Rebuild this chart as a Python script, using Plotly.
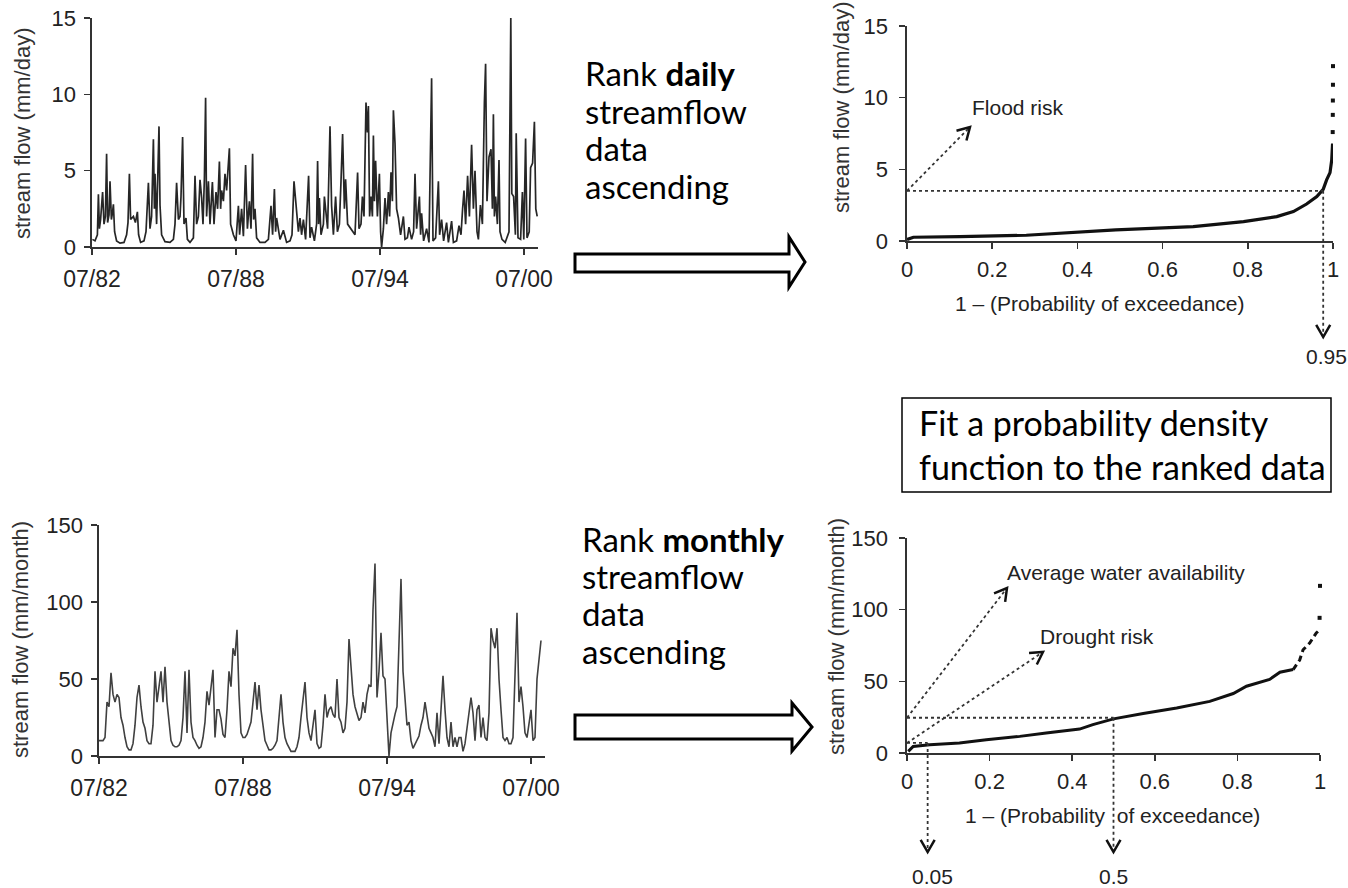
import math
import plotly.graph_objects as go

W, H = 1348, 888

# ------------------------------------------------------------------ data
time_tick_vals = [1982.5, 1988.5, 1994.5, 2000.5]
time_tick_text = ["07/82", "07/88", "07/94", "07/00"]

# daily stream flow (mm/day): months since July 1982 and flow
daily_month_offset = [
    0.2, 1.5, 2.7, 3.2, 3.7, 4.3, 5.3, 6.0, 6.7, 7.3,
    7.8, 8.5, 9.0, 9.7, 10.2, 10.7, 11.3, 12.3, 14, 16,
    17.3, 18, 18.7, 19.3, 20.7, 21.7, 22.7, 23.3, 24.3, 26,
    27, 28.2, 29, 29.8, 30.7, 31.2, 31.5, 32.3, 33.5, 34,
    34.8, 36.5, 39, 40.7, 41.5, 42.3, 43.2, 44, 44.5, 45.3,
    46, 47, 47.7, 49, 50.7, 51.5, 52.3, 53.2, 54, 54.8,
    55.5, 56.2, 56.8, 57.3, 58.2, 59, 60.2, 61, 62, 62.8,
    63.7, 64.3, 64.8, 65.7, 66.5, 67.3, 68.7, 69.3, 70.7, 72,
    73.2, 73.8, 74.8, 75.7, 76.8, 77.7, 78.7, 79.5, 80.3, 80.8,
    81.5, 82.3, 84, 86.5, 88.2, 89.5, 90.3, 91.2, 91.8, 92.3,
    94, 95.7, 97.3, 99, 100, 101,
    103.2, 104, 104.8, 105.7, 106.8, 108.3, 109, 109.8, 111.2, 112.3,
    112.8, 113.3, 113.7, 114.5, 115.7, 116.2, 116.8, 117.8, 119, 119.8,
    120.7, 121.8, 122.7, 123.7, 124.5, 125.3, 126.2, 126.8, 127.8, 129.8,
    131.5, 132.8, 133.5, 134.5, 135.2, 136, 137, 137.7, 138.2, 138.8,
    139.5, 140.2, 140.7, 141.2, 141.8, 142.7, 143.7, 144.3, 144.8, 145.7,
    146.5, 147.3, 148.2, 148.8, 149.5, 150.2, 150.7, 151.5, 152.3, 153.2,
    154.3, 155.7, 156.5, 157.7, 158.5, 159.8, 160.8, 161.5, 162.3, 163.7,
    164.3, 164.8, 165.8, 167.3, 168.5, 169.8, 170.5, 171.8, 173.2, 173.8,
    174.8, 175.8, 177.3, 178.2, 179.8, 180.7, 182.3, 183.5, 184.5, 185.3,
    186, 186.8, 187.8, 188.7, 189.8, 190.7, 191.5, 192.5, 193.2, 194.2,
    195.2, 196.2, 196.8, 197.5, 198.5, 199.5, 200.2, 200.7, 201.2, 201.8,
    202.7, 203.5, 204,
    205, 206.6, 208.5, 209.4, 209.9, 210.8, 211.7, 212.1, 213, 214.3,
    215.2, 215.9, 216.8, 217.5, 218.6, 219.3, 220.3, 221.2, 221.9, 222.6,
]
daily_flow = [
    0.5, 0.4, 0.8, 3.45, 1.2, 1.8, 3.6, 1.5, 2.0, 6.1,
    1.6, 2.1, 4.3, 1.8, 2.2, 2.8, 1.0, 0.4, 0.25, 0.3,
    0.8, 1.6, 4.8, 1.8, 2.0, 1.6, 2.3, 0.8, 0.3, 0.4,
    1.0, 4.2, 1.2, 2.0, 7.05, 2.5, 4.8, 1.5, 7.9, 2.75,
    0.8, 0.35, 0.3, 0.5, 1.5, 4.2, 1.8, 2.0, 3.3, 7.2,
    1.5, 1.9, 0.5, 0.3, 0.6, 4.67, 1.5, 2.0, 4.4, 3.25,
    1.5, 4.5, 9.78, 2.0, 4.3, 1.5, 4.25, 1.5, 3.6, 2.5,
    5.6, 2.5, 3.7, 3.0, 4.8, 3.7, 6.46, 1.5, 0.8, 0.4,
    2.7, 0.8, 2.5, 0.7, 5.37, 1.2, 3.0, 1.2, 6.1, 1.8,
    2.5, 0.6, 0.3, 0.3, 0.5, 2.7, 0.8, 3.8, 1.0, 1.9,
    0.5, 1.1, 0.3, 0.4, 0.8, 4.3,
    1.0, 1.9, 0.8, 1.8, 0.5, 4.67, 0.6, 1.3, 0.4, 1.5,
    5.63, 1.5, 3.2, 0.8, 1.5, 3.3, 2.5, 1.2, 7.9, 2.7,
    0.8, 3.3, 1.0, 1.5, 4.3, 7.4, 2.5, 4.44, 1.5, 1.1,
    0.8, 4.88, 1.2, 1.5, 3.3, 2.0, 9.47, 7.5, 9.24, 2.0,
    3.3, 2.0, 7.3, 3.0, 5.65, 2.0, 4.8, 1.0, 0.0, 1.2,
    3.2, 1.5, 3.6, 2.0, 4.9, 3.0, 8.96, 6.8, 2.5, 1.9,
    0.8, 2.0, 0.5, 0.6, 1.3, 0.5, 1.0, 4.8, 1.2, 3.3,
    0.8, 2.2, 0.4, 1.2, 0.3, 11.05, 0.4, 0.6, 4.3, 0.8,
    1.8, 0.4, 1.6, 0.3, 1.7, 0.3, 0.4, 1.4, 0.8, 2.5,
    3.7, 1.5, 4.67, 2.0, 6.7, 2.5, 5.0, 1.0, 0.5, 2.75,
    1.5, 9.5, 12.0, 3.0, 5.9, 6.4, 2.5, 8.7, 2.0, 3.3,
    1.5, 5.7, 1.0,
    0.5, 0.3, 1.0, 15.0, 3.5, 3.3, 0.8, 7.45, 0.6, 0.5,
    3.6, 0.5, 7.1, 0.6, 1.0, 5.2, 5.5, 8.2, 2.5, 2.0,
]

# monthly stream flow (mm/month), one value per month starting July 1982
monthly_flow = [
    10, 10, 10, 12, 35, 32, 54, 40, 35, 40,
    38, 25, 20, 12, 6, 4, 4, 8, 20, 38,
    46, 32, 22, 18, 10, 8, 8, 20, 55, 35,
    45, 55, 35, 58, 35, 20, 10, 7, 6, 6,
    7, 10, 25, 55, 15, 56, 22, 12, 10, 7,
    5, 6, 12, 22, 42, 33, 45, 56, 12, 30,
    30, 24, 14, 12, 30, 55, 45, 70, 65, 82,
    40, 15, 12, 12, 14, 18, 22, 35, 48, 30,
    46, 30, 18, 10, 7, 4, 4, 5, 7, 10,
    25, 40, 22, 12, 8, 5, 3, 3, 3, 6,
    12, 25, 35, 48, 25, 15, 10, 20, 30, 8,
    5, 6, 20, 40, 25, 30, 32, 27, 25, 50,
    25, 22, 15, 18, 35, 76, 60, 40, 32, 28,
    23, 25, 35, 28, 40, 46, 45, 95, 125, 38,
    55, 80, 52, 50, 20, 0, 15, 22, 27, 32,
    70, 115, 55, 35, 20, 22, 10, 5, 8, 10,
    13, 20, 25, 35, 25, 18, 15, 12, 6, 28,
    8, 35, 52, 30, 12, 6, 22, 6, 12, 6,
    12, 12, 3, 8, 18, 30, 38, 28, 10, 30,
    33, 12, 25, 12, 10, 28, 83, 75, 70, 83,
    50, 30, 12, 10, 12, 8, 8, 12, 50, 93,
    35, 45, 32, 15, 12, 20, 30, 10, 12, 50,
    65, 75,
]

# ranked daily flow: 1 - probability of exceedance vs flow (mm/day)
daily_rank_p = [0.0, 0.015, 0.124, 0.28, 0.49, 0.6, 0.672, 0.79, 0.868, 0.907,
                0.938, 0.962, 0.977, 0.985, 0.993, 0.997, 0.999]
daily_rank_q = [0.1, 0.26, 0.3, 0.4, 0.77, 0.93, 1.0, 1.35, 1.7, 2.05,
                2.58, 3.1, 3.6, 4.26, 4.77, 5.65, 6.8]
daily_tail_p = [0.9993, 0.9995, 0.9997, 0.9999, 1.0]
daily_tail_q = [7.6, 8.8, 9.8, 10.9, 12.2]

# ranked monthly flow (mm/month)
monthly_rank_p = [0.003, 0.015, 0.055, 0.127, 0.192, 0.273, 0.337, 0.418, 0.45, 0.5,
                  0.572, 0.653, 0.733, 0.79, 0.822, 0.878, 0.903, 0.935]
monthly_rank_q = [1.1, 4.6, 5.8, 7.0, 9.3, 11.6, 14.0, 16.7, 19.8, 23.8,
                  27.5, 31.4, 36.0, 41.5, 46.6, 51.3, 56.4, 58.2]
monthly_upper_p = [0.935, 0.951, 0.959, 0.975, 0.991, 0.998]
monthly_upper_q = [58.2, 65.0, 72.0, 76.7, 83.7, 85.6]
monthly_tail_p = [0.999, 1.0]
monthly_tail_q = [94.3, 116.6]

# risk levels marked on the ranked curves
flood_p, flood_q = 0.977, 3.5
drought_p, drought_q = 0.05, 7.0
average_p, average_q = 0.5, 24.6

# ------------------------------------------------------------------ layout geometry (pixels)
panels = {
    "TL": dict(x0=92, x1=538, yt=18, yb=247, xr=(1982.5, 1982.5 + 446 / 24), yr=(0, 15)),
    "TR": dict(x0=907, x1=1333, yt=26, yb=241, xr=(0, 1), yr=(0, 15)),
    "BL": dict(x0=99, x1=545, yt=525, yb=756, xr=(1982.5, 1982.5 + 446 / 24), yr=(0, 150)),
    "BR": dict(x0=907, x1=1320, yt=538, yb=753, xr=(0, 1), yr=(0, 150)),
}


def PX(x):
    return x / W


def PY(y):
    return 1 - y / H


def data_px(panel, xv, yv):
    p = panels[panel]
    fx = (xv - p["xr"][0]) / (p["xr"][1] - p["xr"][0])
    fy = (yv - p["yr"][0]) / (p["yr"][1] - p["yr"][0])
    return p["x0"] + fx * (p["x1"] - p["x0"]), p["yb"] - fy * (p["yb"] - p["yt"])


FONT = "Liberation Sans, Arial, sans-serif"
TXT = "#222222"
AX = "#333333"


def axis(panel, which, size=21, **kw):
    p = panels[panel]
    if which == "x":
        dom = [PX(p["x0"]), PX(p["x1"])]
        rng = list(p["xr"])
    else:
        dom = [PY(p["yb"]), PY(p["yt"])]
        rng = list(p["yr"])
    d = dict(domain=dom, range=rng, showline=True, linecolor=AX, linewidth=1.6,
             ticks="outside", ticklen=6, tickwidth=1.5, tickcolor=AX,
             showgrid=False, zeroline=False, fixedrange=True, automargin=False,
             tickfont=dict(family=FONT, size=size, color=TXT))
    d.update(kw)
    return d


fig = go.Figure()

# daily series
fig.add_trace(go.Scatter(
    x=[time_tick_vals[0] + m / 12 for m in daily_month_offset], y=daily_flow,
    mode="lines", line=dict(color="#262626", width=1.7), xaxis="x", yaxis="y",
    hoverinfo="skip"))
# ranked daily
fig.add_trace(go.Scatter(x=daily_rank_p, y=daily_rank_q, mode="lines",
                         line=dict(color="#111", width=3.2), xaxis="x2", yaxis="y2",
                         cliponaxis=False, hoverinfo="skip"))
fig.add_trace(go.Scatter(x=daily_tail_p, y=daily_tail_q, mode="markers",
                         marker=dict(color="#111", size=4, symbol="square"),
                         xaxis="x2", yaxis="y2", cliponaxis=False, hoverinfo="skip"))
# monthly series
fig.add_trace(go.Scatter(
    x=[time_tick_vals[0] + i / 12 for i in range(len(monthly_flow))], y=monthly_flow,
    mode="lines", line=dict(color="#404040", width=1.6), xaxis="x3", yaxis="y3",
    hoverinfo="skip"))
# ranked monthly
fig.add_trace(go.Scatter(x=monthly_rank_p, y=monthly_rank_q, mode="lines",
                         line=dict(color="#111", width=3), xaxis="x4", yaxis="y4",
                         cliponaxis=False, hoverinfo="skip"))
fig.add_trace(go.Scatter(x=monthly_upper_p, y=monthly_upper_q, mode="lines",
                         line=dict(color="#111", width=3, dash="6px,4px"), xaxis="x4", yaxis="y4",
                         cliponaxis=False, hoverinfo="skip"))
fig.add_trace(go.Scatter(x=monthly_tail_p, y=monthly_tail_q, mode="markers",
                         marker=dict(color="#111", size=4, symbol="square"),
                         xaxis="x4", yaxis="y4", cliponaxis=False, hoverinfo="skip"))

fig.update_layout(
    width=W, height=H, autosize=False,
    margin=dict(l=0, r=0, t=0, b=0, pad=0, autoexpand=False),
    paper_bgcolor="white", plot_bgcolor="white", showlegend=False,
    xaxis=axis("TL", "x", size=23, anchor="y", tickvals=time_tick_vals, ticktext=time_tick_text,
               ticklabelstandoff=5),
    yaxis=axis("TL", "y", size=22, anchor="x", tickvals=[0, 5, 10, 15], ticklabelstandoff=4),
    xaxis2=axis("TR", "x", size=22, anchor="y2", tickvals=[0, 0.2, 0.4, 0.6, 0.8, 1],
                ticktext=["0", "0.2", "0.4", "0.6", "0.8", "1"], ticklabelstandoff=2),
    yaxis2=axis("TR", "y", size=22, anchor="x2", tickvals=[0, 5, 10, 15], ticklabelstandoff=7),
    xaxis3=axis("BL", "x", size=23, anchor="y3", tickvals=time_tick_vals, ticktext=time_tick_text,
                ticklabelstandoff=5),
    yaxis3=axis("BL", "y", size=22, anchor="x3", tickvals=[0, 50, 100, 150], ticklabelstandoff=4),
    xaxis4=axis("BR", "x", size=22, anchor="y4", tickvals=[0, 0.2, 0.4, 0.6, 0.8, 1],
                ticktext=["0", "0.2", "0.4", "0.6", "0.8", "1"], ticklabelstandoff=2),
    yaxis4=axis("BR", "y", size=22, anchor="x4", tickvals=[0, 50, 100, 150], ticklabelstandoff=7),
)

shapes = []
annotations = []


def text(x, y, s, size=21, anchor="left", angle=0, family=FONT, color=TXT):
    annotations.append(dict(x=PX(x), y=PY(y), xref="paper", yref="paper", text=s,
                            showarrow=False, xanchor=anchor, yanchor="middle",
                            textangle=angle, font=dict(family=family, size=size, color=color)))


def dotted(a, b):
    shapes.append(dict(type="line", xref="paper", yref="paper",
                       x0=PX(a[0]), y0=PY(a[1]), x1=PX(b[0]), y1=PY(b[1]),
                       line=dict(color="#333", width=1.8, dash="dot")))


def chevron(frm, tip, L=14, ang=30):
    dx, dy = tip[0] - frm[0], tip[1] - frm[1]
    n = math.hypot(dx, dy)
    ux, uy = dx / n, dy / n
    pts = []
    for s in (1, -1):
        a = math.radians(ang) * s
        rx = ux * math.cos(a) - uy * math.sin(a)
        ry = ux * math.sin(a) + uy * math.cos(a)
        pts.append((tip[0] - L * rx, tip[1] - L * ry))
    path = "M {} {} L {} {} L {} {}".format(PX(pts[0][0]), PY(pts[0][1]), PX(tip[0]), PY(tip[1]),
                                            PX(pts[1][0]), PY(pts[1][1]))
    shapes.append(dict(type="path", xref="paper", yref="paper", path=path,
                       line=dict(color="#111", width=2.5)))


def arrow(frm, tip):
    dotted(frm, tip)
    chevron(frm, tip)


def block_arrow(pts):
    path = "M " + " L ".join("{} {}".format(PX(x), PY(y)) for x, y in pts) + " Z"
    shapes.append(dict(type="path", xref="paper", yref="paper", path=path,
                       fillcolor="white", line=dict(color="black", width=3)))


# ----- top right annotations (flood risk)
f_axis = data_px("TR", 0, flood_q)
f_pt = data_px("TR", flood_p, flood_q)
dotted(f_axis, f_pt)
arrow(f_pt, (f_pt[0], 337))
arrow(f_axis, (970, 127))
text(970, 108, "Flood risk")
text(1326, 357, "0.95", anchor="center")

# ----- bottom right annotations
d_axis = data_px("BR", 0, drought_q)
d_pt = data_px("BR", drought_p, drought_q)
a_axis = data_px("BR", 0, average_q)
a_pt = data_px("BR", average_p, average_q)
dotted(d_axis, d_pt)
dotted(a_axis, a_pt)
arrow(d_pt, (d_pt[0], 852))
arrow(a_pt, (a_pt[0], 852))
arrow(a_axis, (1007, 588))
arrow(d_axis, (1043, 652))
text(1005, 572, "Average water availability")
text(1038, 636, "Drought risk")
text(932, 876, "0.05", anchor="center")
text(1113, 876, "0.5", anchor="center")

# ----- axis titles
text(22, 134, "stream flow (mm/day)", size=22, anchor="center", angle=-90, color="#333")
text(20, 640, "stream flow (mm/month)", size=22, anchor="center", angle=-90, color="#333")
text(842, 108, "stream flow (mm/day)", size=22, anchor="center", angle=-90, color="#333")
text(836, 637, "stream flow (mm/month)", size=22, anchor="center", angle=-90, color="#333")
text(1100, 303, "1 \u2013 (Probability of exceedance)", anchor="center")
text(1112, 815, "1 \u2013 (Probability  of exceedance)", anchor="center")

# ----- explanatory text
CAL = "Lato, Carlito, Calibri, sans-serif"
for y, s in zip([73, 111, 148, 186], ["Rank <b>daily</b>", "streamflow", "data", "ascending"]):
    text(583, y, s, size=33, family=CAL, color="black")
for y, s in zip([539, 576, 613, 651], ["Rank <b>monthly</b>", "streamflow", "data", "ascending"]):
    text(580, y, s, size=33, family=CAL, color="black")

block_arrow([(575, 254), (789, 254), (789, 237), (805, 262), (789, 287), (789, 272), (575, 272)])
block_arrow([(575, 715), (792, 715), (792, 703), (812, 727), (792, 751), (792, 739), (575, 739)])

shapes.append(dict(type="rect", xref="paper", yref="paper", x0=PX(902), x1=PX(1331),
                   y0=PY(492), y1=PY(398), line=dict(color="black", width=1.5),
                   fillcolor="rgba(0,0,0,0)"))
text(917, 423, "Fit a probability density", size=34, family=CAL, color="black")
text(917, 466, "function to the ranked data", size=34, family=CAL, color="black")

fig.update_layout(shapes=shapes, annotations=annotations)
fig.write_html(
    "out.html",
    config={"displayModeBar": False, "staticPlot": True},
    post_script="document.body.style.margin='0px';document.body.style.padding='0px';"
                "document.body.style.overflow='hidden';",
)
